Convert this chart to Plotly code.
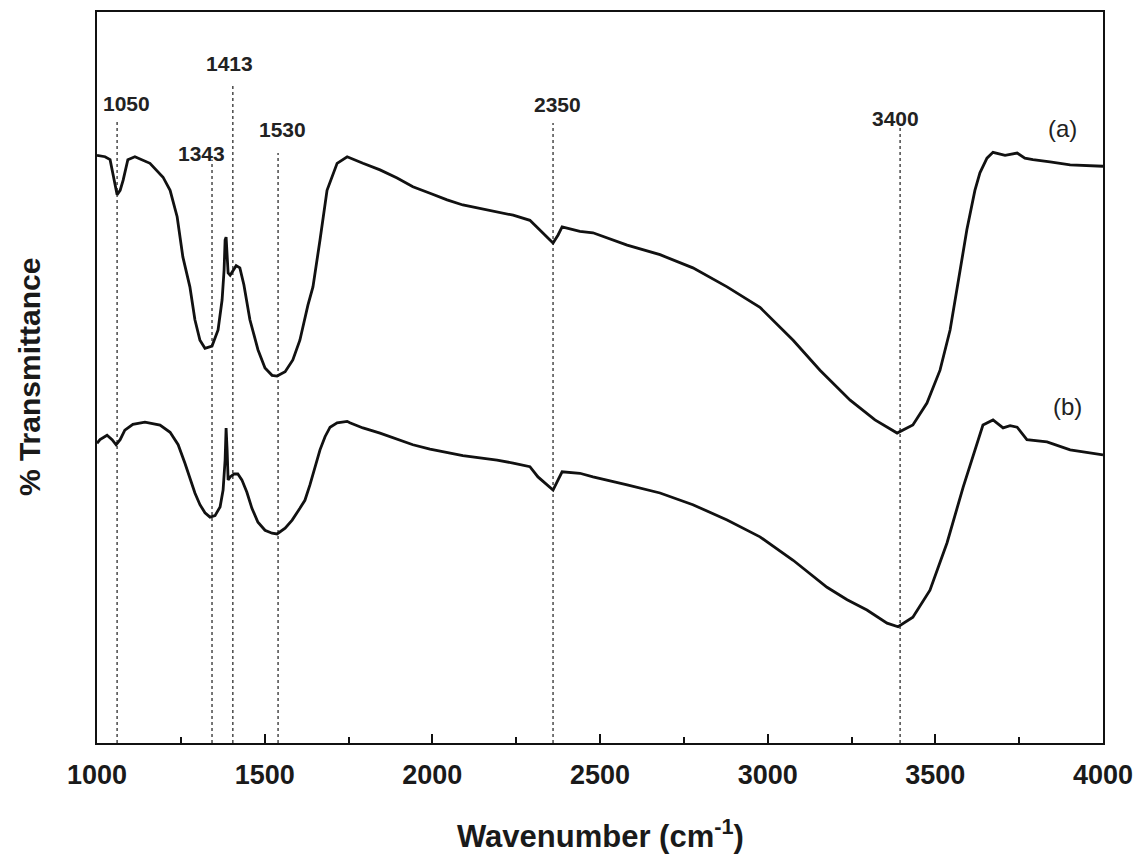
import plotly.graph_objects as go

# ---- data (wavenumber, cm-1 ; % transmittance, arbitrary offset) ----
wn_a = [1000, 1024, 1039, 1048, 1060, 1069, 1078, 1092, 1113, 1158, 1197, 1218, 1239, 1256, 1277,
        1292, 1307, 1322, 1343, 1361, 1373, 1379, 1382, 1385, 1388, 1391, 1397, 1403, 1415, 1426,
        1438, 1456, 1480, 1501, 1522, 1537, 1561, 1584, 1605, 1629, 1644, 1665, 1686, 1716, 1746,
        1793, 1844, 1895, 1942, 1993, 2044, 2091, 2142, 2193, 2241, 2291, 2321, 2342, 2360, 2375,
        2387, 2440, 2479, 2581, 2679, 2777, 2879, 2977, 3076, 3156, 3246, 3320, 3386, 3433, 3475,
        3514, 3544, 3574, 3594, 3618, 3633, 3654, 3672, 3708, 3744, 3767, 3791, 3842, 3902, 4000]
t_a = [80.4, 80.2, 79.8, 77.7, 75.0, 75.6, 77.0, 79.8, 80.2, 79.3, 77.4, 75.6, 72.0, 66.5, 62.4,
       57.9, 55.1, 54.0, 54.3, 56.5, 60.6, 64.7, 68.8, 69.2, 66.8, 64.3, 64.0, 64.4, 65.3, 65.0,
       62.7, 57.9, 53.8, 51.3, 50.3, 50.2, 50.8, 52.4, 55.1, 59.9, 62.4, 68.8, 75.6, 79.3, 80.2,
       79.3, 78.4, 77.3, 76.1, 75.2, 74.3, 73.6, 73.1, 72.6, 72.2, 71.5, 70.2, 69.2, 68.4, 69.5,
       70.6, 70.0, 69.8, 68.1, 66.8, 65.0, 62.4, 59.6, 55.1, 51.0, 46.9, 44.2, 42.4, 43.5, 46.5,
       51.0, 56.5, 64.7, 70.2, 75.6, 78.0, 80.0, 80.8, 80.4, 80.7, 80.0, 79.8, 79.5, 79.1, 78.9]

wn_b = [1000, 1009, 1030, 1045, 1057, 1069, 1083, 1107, 1143, 1188, 1218, 1242, 1262, 1277, 1292,
        1307, 1322, 1337, 1352, 1367, 1376, 1382, 1385, 1388, 1391, 1397, 1409, 1420, 1432, 1447,
        1462, 1480, 1501, 1522, 1537, 1561, 1582, 1605, 1620, 1635, 1650, 1665, 1680, 1695, 1716,
        1746, 1754, 1793, 1844, 1895, 1942, 1993, 2044, 2091, 2142, 2193, 2241, 2291, 2315, 2342,
        2360, 2375, 2387, 2440, 2479, 2581, 2679, 2777, 2879, 2977, 3076, 3177, 3237, 3296, 3356,
        3389, 3433, 3484, 3535, 3583, 3624, 3642, 3672, 3693, 3702, 3723, 3744, 3773, 3833, 3902, 4000]
t_b = [41.0, 41.5, 42.1, 41.5, 40.8, 41.5, 42.8, 43.6, 43.9, 43.5, 42.5, 40.8, 38.3, 36.3, 34.2,
       32.6, 31.5, 30.9, 31.1, 32.3, 34.6, 38.7, 43.1, 40.1, 36.0, 36.4, 36.8, 36.8, 36.0, 34.3,
       32.1, 30.2, 29.1, 28.7, 28.6, 29.4, 30.5, 32.1, 33.2, 35.3, 37.6, 40.1, 41.9, 43.2, 43.8,
       44.0, 43.8, 43.1, 42.4, 41.6, 40.8, 40.2, 39.7, 39.3, 39.0, 38.7, 38.3, 37.8, 36.4, 35.3,
       34.6, 36.0, 37.1, 36.9, 36.4, 35.3, 34.2, 32.6, 30.5, 28.2, 25.0, 21.3, 19.6, 18.2, 16.4,
       15.9, 17.2, 20.9, 27.4, 35.0, 41.0, 43.5, 44.2, 43.5, 43.1, 43.4, 43.2, 41.5, 41.2, 40.1, 39.4]

# peak marker lines: label text, line position, line top, label position (x, y)
peak_labels = ["1050", "1343", "1413", "1530", "2350", "3400"]
peak_line_x = [1060, 1343, 1405, 1540, 2360, 3395]
peak_line_top = [85.0, 79.8, 90.3, 80.7, 84.8, 84.3]
peak_label_x = [1089, 1313, 1394, 1552, 2372, 3380]
peak_label_y = [87.5, 80.7, 93.0, 83.9, 87.3, 85.4]

series_labels = ["(a)", "(b)"]
series_label_x = [3878, 3893]
series_label_y = [84.1, 46.1]

x_ticks = [1000, 1500, 2000, 2500, 3000, 3500, 4000]

FONT = "Liberation Sans, Arial, sans-serif"

fig = go.Figure()

# dotted peak lines
for xl, yt in zip(peak_line_x, peak_line_top):
    fig.add_trace(go.Scatter(x=[xl, xl], y=[0, yt], mode="lines",
                             line=dict(color="#555555", width=1.6, dash="dot"),
                             hoverinfo="skip", showlegend=False))

for xs, ys in [(wn_a, t_a), (wn_b, t_b)]:
    fig.add_trace(go.Scatter(x=xs, y=ys, mode="lines",
                             line=dict(color="#111111", width=2.8),
                             showlegend=False))

for txt, xl, yl in zip(peak_labels, peak_label_x, peak_label_y):
    fig.add_annotation(x=xl, y=yl, text=txt, showarrow=False,
                       font=dict(family=FONT, size=21, color="#222222", weight="bold"))

for txt, xl, yl in zip(series_labels, series_label_x, series_label_y):
    fig.add_annotation(x=xl, y=yl, text=txt, showarrow=False,
                       font=dict(family=FONT, size=24, color="#222222"))

# axis titles
fig.add_annotation(xref="paper", yref="paper", x=0.5, y=-0.125, yanchor="middle",
                   text="Wavenumber (cm<sup>-1</sup>)", showarrow=False,
                   font=dict(family=FONT, size=31, color="#1a1a1a", weight="bold"))
fig.add_annotation(xref="paper", yref="paper", x=-0.067, y=0.5, xanchor="center",
                   text="% Transmittance", textangle=-90, showarrow=False,
                   font=dict(family=FONT, size=30, color="#1a1a1a", weight="bold"))

fig.update_layout(
    width=1138, height=861,
    margin=dict(l=97, r=35, t=12, b=118, autoexpand=False),
    paper_bgcolor="white", plot_bgcolor="white",
    showlegend=False,
)
fig.update_xaxes(range=[1000, 4000], tickvals=x_ticks, ticks="inside", ticklen=9,
                 tickwidth=2, tickcolor="#111111",
                 minor=dict(dtick=250, tick0=1000, ticks="inside", ticklen=6, tickwidth=2,
                            tickcolor="#111111"),
                 showgrid=False, zeroline=False, automargin=False,
                 ticklabeloverflow="allow",
                 showline=True, linecolor="#111111", linewidth=2, mirror=True,
                 tickfont=dict(family=FONT, size=27, color="#1a1a1a", weight="bold"),
                 ticklabelstandoff=7)
fig.update_yaxes(range=[0, 100], showticklabels=False, ticks="", showgrid=False,
                 zeroline=False, showline=True, linecolor="#111111", linewidth=2, mirror=True,
                 automargin=False)

fig.write_html("out.html")
